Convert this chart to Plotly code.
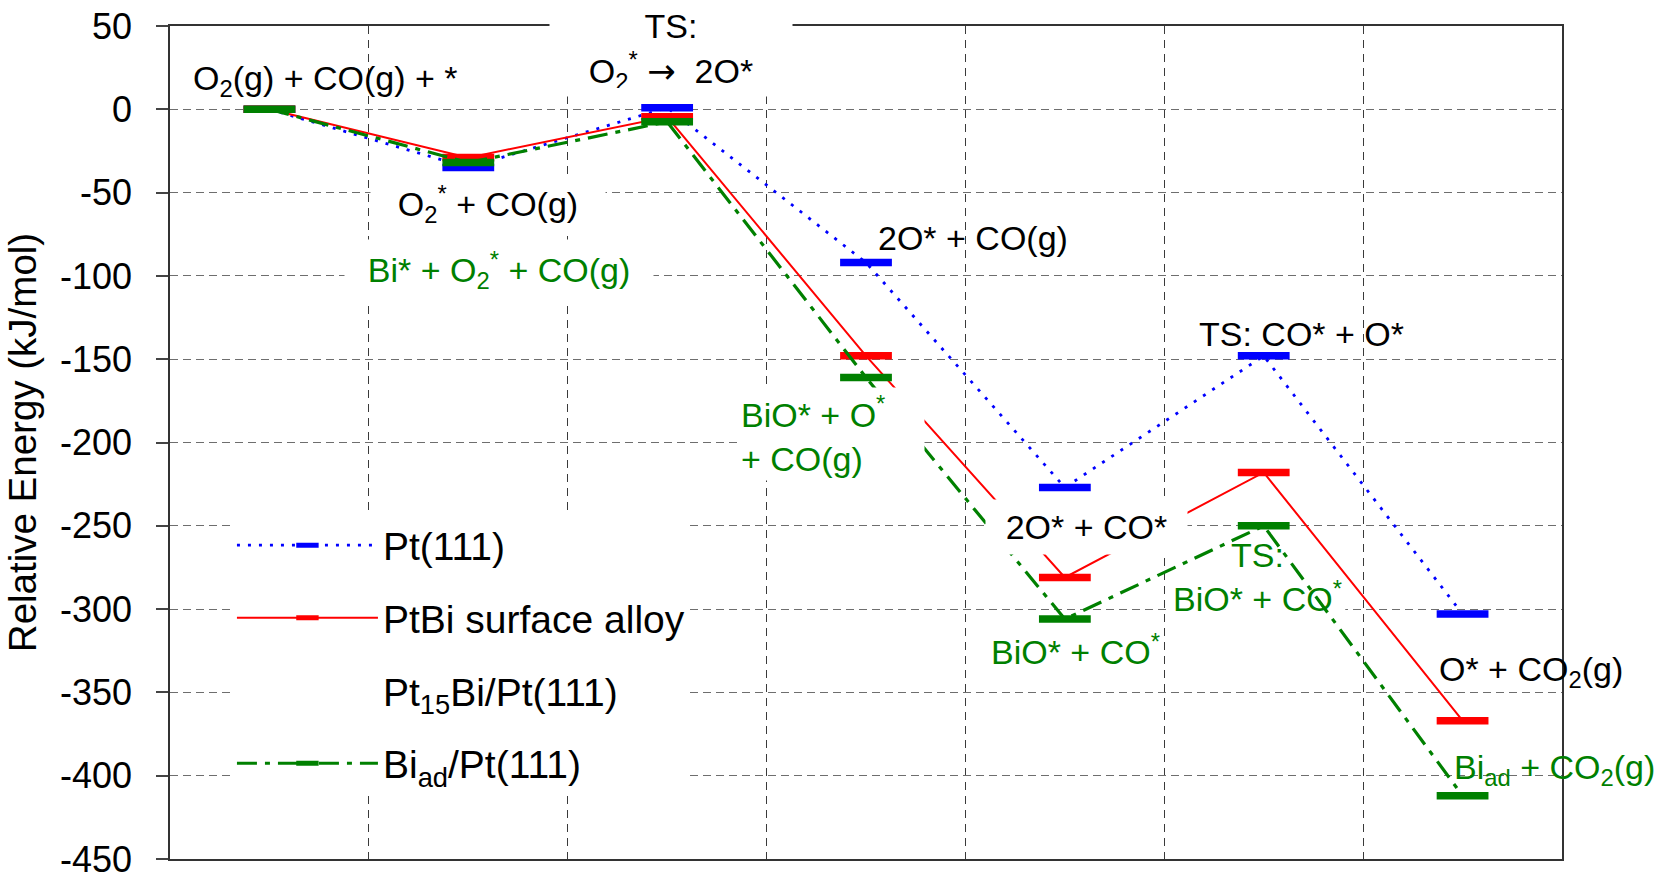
import plotly.graph_objects as go

# Reaction steps along the CO oxidation pathway (x categories, labels hidden)
steps = ["O2(g)+CO(g)+*", "O2*+CO(g)", "TS O2*->2O*", "2O*+CO(g)",
         "2O*+CO*", "TS CO*+O*", "O*+CO2(g)"]

# Relative energies, kJ/mol
pt111_energy = [0, -35, 1, -92, -227, -148, -303]
ptbi_alloy_energy = [0, -29, -4.5, -148, -281, -218, -367]
bi_ad_energy = [0, -32, -7.5, -161, -306, -250, -412]

y_tick_values = [50, 0, -50, -100, -150, -200, -250, -300, -350, -400, -450]
y_tick_labels = ["50", "0", "-50", "-100", "-150", "-200", "-250", "-300",
                 "-350", "-400", "-450"]

FONT = "Liberation Sans, Arial, sans-serif"
BLUE = "#0000ff"
RED = "#ff0000"
GREEN = "#008000"


def level_trace(name, energies, color, dash, width):
    # connecting line plus a short horizontal bar at each energy level
    return go.Scatter(
        x=steps, y=energies, name=name, legendgroup=name,
        mode="lines+markers",
        line=dict(color=color, dash=dash, width=width),
        marker=dict(symbol="line-ew", size=37,
                    line=dict(color=color, width=7.5)),
    )


fig = go.Figure()
fig.add_trace(level_trace("Pt(111)", pt111_energy, BLUE, "3px,8px", 2.8))
fig.add_trace(level_trace("PtBi surface alloy", ptbi_alloy_energy, RED,
                          "solid", 2))
# legend-only entry, no levels plotted for this surface
fig.add_trace(go.Scatter(
    x=[None], y=[None], name="Pt<sub>15</sub>Bi/Pt(111)",
    legendgroup="pt15bi", mode="lines",
    line=dict(color="rgba(0,0,0,0)", width=2),
))
fig.add_trace(level_trace("Bi<sub>ad</sub>/Pt(111)", bi_ad_energy, GREEN,
                          "20px,8px,5px,8px", 3.2))

ARROW = '<span style="font-family:DejaVu Sans">→</span>'

# State labels: (text, x, y, colour, extra annotation options)
labels = [
    ("O<sub>2</sub>(g) + CO(g) + *", 0.28, 17, "black", {}),
    ("TS:<br>O<sub>2</sub><sup>*</sup> " + ARROW + "&nbsp; 2O*", 2.02, 35,
     "black", dict(bgcolor="white", width=226, height=74, borderpad=8)),
    ("O<sub>2</sub><sup>*</sup> + CO(g)", 1.10, -57, "black",
     dict(bgcolor="white", width=226, borderpad=4)),
    ("Bi* + O<sub>2</sub><sup>*</sup> + CO(g)", 1.154, -96.5, GREEN,
     dict(bgcolor="white", width=296, borderpad=6)),
    ("2O* + CO(g)", 3.54, -77, "black", {}),
    ("BiO* + O<sup>*</sup><br>+ CO(g)", 2.36, -195, GREEN,
     dict(bgcolor="white", width=182, height=90, borderpad=1,
          xanchor="left", align="left")),
    ("2O* + CO*", 4.11, -250.5, "black",
     dict(bgcolor="white", width=185, borderpad=8)),
    ("TS: CO* + O*", 5.19, -135, "black", {}),
    ("TS:<br>BiO* + CO<sup>*</sup>", 4.97, -281, GREEN, {}),
    ("BiO* + CO<sup>*</sup>", 4.056, -324, GREEN, {}),
    ("O* + CO<sub>2</sub>(g)", 6.344, -337.5, "black", {}),
    ("Bi<sub>ad</sub> + CO<sub>2</sub>(g)", 6.464, -396, GREEN, {}),
]

for text, x, y, color, extra in labels:
    opts = dict(xanchor="center", yanchor="middle", showarrow=False)
    opts.update(extra)
    fig.add_annotation(text=text, x=x, y=y, xref="x", yref="y",
                       font=dict(family=FONT, size=34, color=color), **opts)

# white patch behind the green TS label: hides the grid, stays under the lines
fig.add_shape(type="rect", xref="x", yref="y", x0=4.515, x1=5.41,
              y0=-312, y1=-262, fillcolor="white", line=dict(width=0),
              layer="between")

fig.update_layout(
    width=1661, height=874,
    margin=dict(l=170, r=99, t=26, b=15),
    paper_bgcolor="white", plot_bgcolor="white",
    font=dict(family=FONT, color="black"),
    showlegend=True,
    legend=dict(
        x=0.0445, y=0.415, xanchor="left", yanchor="top",
        bgcolor="white", borderwidth=0,
        font=dict(family=FONT, size=39, color="black"),
        itemwidth=141, tracegroupgap=19, traceorder="grouped",
    ),
    xaxis=dict(
        type="category", range=[-0.5, 6.5], tickson="boundaries",
        showticklabels=False, ticks="",
        showgrid=True, gridcolor="#3a3a3a", gridwidth=1, griddash="8px,6px",
        showline=True, linecolor="#333333", linewidth=1.5, mirror=True,
        zeroline=False,
    ),
    yaxis=dict(
        range=[-450, 50], tickvals=y_tick_values, ticktext=y_tick_labels,
        ticks="outside", ticklen=12, tickwidth=1.5, tickcolor="#444444",
        ticklabelstandoff=17, ticklabeloverflow="allow",
        tickfont=dict(family=FONT, size=36, color="black"),
        showgrid=True, gridcolor="#6e6e6e", gridwidth=1.3, griddash="8px,5px",
        showline=True, linecolor="#333333", linewidth=1.5, mirror=True,
        zeroline=False, automargin=False,
        title=dict(text="Relative Energy (kJ/mol)", standoff=12,
                   font=dict(family=FONT, size=38.5, color="black")),
    ),
)

fig.write_html("out.html")
